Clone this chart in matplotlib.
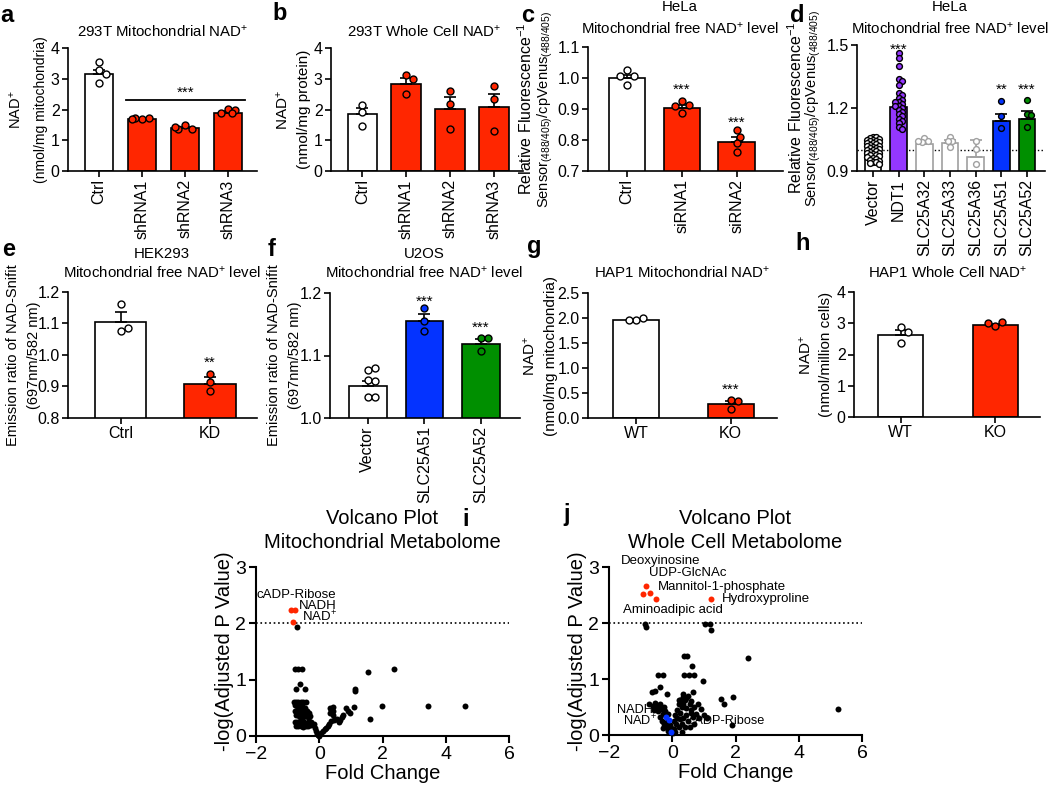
import numpy as np
import matplotlib.pyplot as plt

plt.rcParams['font.family'] = ['Liberation Sans', 'DejaVu Sans']
plt.rcParams['mathtext.fontset'] = 'custom'
plt.rcParams['mathtext.rm'] = 'Liberation Sans'
plt.rcParams['mathtext.it'] = 'Liberation Sans:italic'
plt.rcParams['mathtext.bf'] = 'Liberation Sans:bold'

RED = '#FF2600'
BLUE = '#0433FF'
GREEN = '#008F00'
PURPLE = '#9437FF'
GREY = '#A0A0A0'

# ---- data ----
# a: 293T mitochondrial NAD+
a_labels = ['Ctrl', 'shRNA1', 'shRNA2', 'shRNA3']
a_mean = [3.17, 1.68, 1.41, 1.90]
a_sem = [0.12, 0.01, 0.03, 0.05]
a_pts = [[3.55, 3.28, 3.15, 2.86], [1.70, 1.72, 1.73, 1.70],
         [1.48, 1.37, 1.36, 1.43], [2.02, 2.00, 1.87, 1.89]]

# b: 293T whole cell NAD+
b_labels = ['Ctrl', 'shRNA1', 'shRNA2', 'shRNA3']
b_mean = [1.84, 2.84, 2.03, 2.07]
b_sem = [0.21, 0.19, 0.38, 0.43]
b_pts = [[2.16, 1.92, 1.46], [3.11, 2.98, 2.52],
         [2.61, 2.19, 1.35], [2.75, 2.34, 1.31]]

# c: HeLa, siRNA
c_labels = ['Ctrl', 'siRNA1', 'siRNA2']
c_mean = [1.000, 0.903, 0.795]
c_sem = [0.011, 0.011, 0.016]
c_pts = [[1.025, 1.006, 1.006, 0.977], [0.926, 0.912, 0.909, 0.886],
         [0.832, 0.810, 0.790, 0.762]]

# d: HeLa, overexpression
d_labels = ['Vector', 'NDT1', 'SLC25A32', 'SLC25A33', 'SLC25A36', 'SLC25A51', 'SLC25A52']
d_mean = [0.990, 1.205, 1.030, 1.032, 0.966, 1.138, 1.150]
d_sem = [0.006, 0.020, 0.006, 0.016, 0.080, 0.035, 0.035]
d_pts = [[1.063, 1.060, 1.057, 1.054, 1.049, 1.047, 1.043, 1.041, 1.038, 1.034,
          1.031, 1.029, 1.024, 1.021, 1.018, 1.015, 1.011, 1.008, 1.004, 1.001,
          0.998, 0.995, 0.992, 0.988, 0.985, 0.981, 0.977, 0.974, 0.970, 0.966,
          0.962, 0.958, 0.953, 0.949, 0.945, 0.941, 0.937, 0.933],
         [1.46, 1.44, 1.40, 1.34, 1.33, 1.31, 1.27, 1.26, 1.25, 1.24, 1.23, 1.23,
          1.22, 1.21, 1.21, 1.20, 1.19, 1.18, 1.17, 1.16, 1.15, 1.14, 1.13, 1.11, 1.10],
         [1.056, 1.041, 1.039, 1.042],
         [1.063, 1.044, 1.045, 1.016],
         [1.044, 1.005, 0.935],
         [1.233, 1.160, 1.103],
         [1.238, 1.171, 1.166, 1.111]]

# e: HEK293 NAD-Snifit
e_labels = ['Ctrl', 'KD']
e_mean = [1.105, 0.909]
e_sem = [0.030, 0.020]
e_pts = [[1.163, 1.075, 1.086], [0.941, 0.913, 0.887]]

# f: U2OS NAD-Snifit
f_labels = ['Vector', 'SLC25A51', 'SLC25A52']
f_mean = [1.052, 1.156, 1.119]
f_sem = [0.008, 0.010, 0.008]
f_pts = [[1.077, 1.080, 1.061, 1.059, 1.033, 1.034], [1.176, 1.156, 1.140],
         [1.128, 1.128, 1.107]]

# g: HAP1 mitochondrial NAD+
g_labels = ['WT', 'KO']
g_mean = [1.97, 0.285]
g_sem = [0.015, 0.060]
g_pts = [[1.96, 2.00, 1.97], [0.365, 0.345, 0.18]]

# h: HAP1 whole cell NAD+
h_labels = ['WT', 'KO']
h_mean = [2.62, 2.96]
h_sem = [0.17, 0.03]
h_pts = [[2.88, 2.72, 2.37], [2.92, 3.04, 3.01]]

# i: volcano, mitochondrial metabolome
i_fc = [-0.69, -0.77, -0.66, -0.55, 1.53, 2.37, -0.61, -0.73, -0.45, 1.13, 1.13,
        1.98, 3.43, 4.62, 1.59,
        -0.80, -0.73, -0.66, -0.58, -0.50, -0.42,
        -0.78, -0.70, -0.60, -0.53, -0.45,
        -0.76, -0.68, -0.62, -0.55, -0.48, -0.40, -0.33,
        -0.72, -0.64, -0.56, -0.50, -0.42, -0.35, -0.28,
        -0.78, -0.70, -0.62, -0.55, -0.47, -0.40, -0.32, -0.25, -0.18,
        -0.75, -0.66, -0.58, -0.50, -0.42, -0.34, -0.26, -0.15,
        -0.10, -0.06, -0.03, 0.00, 0.03, 0.07, 0.12, 0.17, 0.22, 0.27,
        0.34, 0.42, 0.38, 0.45, 0.34, 0.42, 0.50, 0.56, 0.46, 0.66, 0.62,
        0.72, 0.76, 0.86, 0.90, 0.98, 1.09, 0.37, 0.30]
i_logp = [1.93, 1.19, 1.19, 1.19, 1.13, 1.19, 0.92, 0.83, 0.83, 0.83, 0.79,
          0.53, 0.53, 0.53, 0.30,
          0.60, 0.60, 0.60, 0.60, 0.60, 0.60,
          0.55, 0.53, 0.52, 0.55, 0.50,
          0.45, 0.47, 0.43, 0.46, 0.42, 0.44, 0.40,
          0.37, 0.35, 0.38, 0.34, 0.36, 0.33, 0.35,
          0.25, 0.24, 0.26, 0.22, 0.25, 0.22, 0.26, 0.24, 0.22,
          0.18, 0.17, 0.18, 0.16, 0.18, 0.17, 0.19, 0.14,
          0.08, 0.04, 0.02, 0.00, 0.03, 0.06, 0.09, 0.12, 0.15, 0.17,
          0.50, 0.52, 0.46, 0.44, 0.40, 0.37, 0.30, 0.31, 0.28, 0.29, 0.25,
          0.34, 0.37, 0.49, 0.45, 0.40, 0.52, 0.27, 0.22]
i_hit_names = ['cADP-Ribose', 'NADH', 'NAD$^{+}$']
i_hit_fc = [-0.88, -0.76, -0.83]
i_hit_logp = [2.23, 2.23, 2.02]

# j: volcano, whole cell metabolome
j_fc = [-0.86, -0.84, 1.03, 1.19, 1.21, 0.38, 0.48, 0.61, 0.37, 0.53, 0.69, 0.98,
        2.38, 5.23, -0.44, -0.30, -0.39, -0.65, -0.55, -0.18, 0.67, 0.35,
        1.53, 1.64, 1.91, 1.88,
        -0.72, -0.62, -0.55, -0.48, -0.40, -0.58, -0.45, -0.35, -0.25, -0.30,
        -0.40, -0.33, -0.25, -0.30, -0.20, -0.15, -0.12, -0.22, -0.08, -0.05, -0.17,
        0.02, 0.05, 0.10, 0.12, 0.15, 0.20, 0.25, 0.30, 0.35, 0.40, 0.45, 0.50,
        0.55, 0.60, 0.35, 0.30, 0.45, 0.50, 0.20, 0.25, 0.35, 0.60, 0.70, 0.80,
        0.90, 1.00, 0.65, 0.75, 0.40, 0.55, 0.30, 0.15, 0.25, 0.10, 0.20, 0.85,
        1.10, 0.70, 0.05, 0.45, 0.58]
j_logp = [1.99, 1.92, 1.99, 1.99, 1.88, 1.41, 1.41, 1.24, 1.07, 1.07, 1.07, 0.97,
          1.38, 0.46, 1.07, 1.07, 0.86, 0.76, 0.79, 0.74, 0.76, 0.74,
          0.65, 0.55, 0.67, 0.18,
          0.55, 0.52, 0.58, 0.50, 0.55, 0.45, 0.42, 0.47, 0.50, 0.38,
          0.33, 0.25, 0.20, 0.13, 0.15, 0.08, 0.38, 0.42, 0.18, 0.12, 0.24,
          0.03, 0.10, 0.05, 0.20, 0.30, 0.15, 0.40, 0.50, 0.56, 0.62, 0.66, 0.70,
          0.55, 0.45, 0.30, 0.20, 0.35, 0.25, 0.55, 0.63, 0.68, 0.60, 0.50, 0.55,
          0.46, 0.35, 0.32, 0.38, 0.15, 0.15, 0.06, 0.45, 0.28, 0.36, 0.62, 0.30,
          0.30, 0.20, 0.25, 0.48, 0.40]
j_hit_fc = [-0.83, -0.91, -0.70, -0.51, 1.22]
j_hit_logp = [2.66, 2.52, 2.54, 2.43, 2.43]
j_hit_names = ['Deoxyinosine', 'UDP-GlcNAc', 'Mannitol-1-phosphate',
               'Hydroxyproline', 'Aminoadipic acid']
j_nad_names = ['NADH', 'NAD$^{+}$', 'cADP-Ribose']
j_nad_fc = [-0.20, -0.09, -0.04]
j_nad_logp = [0.32, 0.27, 0.06]

W, H = 1050, 791
fig = plt.figure(figsize=(W / 100, H / 100), dpi=100)


def add_ax(l, r, t, b):
    return fig.add_axes([l / W, 1 - b / H, (r - l) / W, (b - t) / H])


def style(ax, size=11.5, lw=1.2):
    for s in ('top', 'right'):
        ax.spines[s].set_visible(False)
    for s in ('left', 'bottom'):
        ax.spines[s].set_linewidth(lw)
    ax.tick_params(direction='out', length=4, width=lw, labelsize=size, pad=2)


def swarm(ax, xc, vals, diam, half_w):
    # simple beeswarm in pixel space, using the axes' own transform
    tr = ax.transData
    sx = tr.transform((1, 0))[0] - tr.transform((0, 0))[0]
    placed = []
    xs = []
    step = diam * 0.5
    nmax = int(half_w * sx / step)
    cands = [0.0]
    for k in range(1, nmax + 1):
        cands += [k * step, -k * step]
    for v in vals:
        y = tr.transform((0, v))[1]
        best = None
        best_score = -1
        for off in cands:
            d = min([np.hypot(off - px, y - py) for px, py in placed] + [1e9])
            if d >= diam:
                best = off
                break
            if d > best_score:
                best_score = d
                best = off
        placed.append((best, y))
        xs.append(xc + best / sx)
    return xs


def bar_panel(ax, labels, means, sems, pts, fills, edges, ylim, yticks,
              xlim, width, ms, diam, rot=90, yfmt='{:g}'):
    x = np.arange(len(labels))
    ax.set_xlim(*xlim)
    ax.set_ylim(*ylim)
    ax.bar(x, means, width, color=fills, edgecolor=edges, linewidth=1.2, zorder=2)
    for xi, m, s, e in zip(x, means, sems, edges):
        ax.errorbar(xi, m, yerr=[[0], [s]], color=e, capsize=4, capthick=1.2,
                    elinewidth=1.2, zorder=3)
    for xi, p, f, e in zip(x, pts, fills, edges):
        dd = diam if len(p) < 10 else diam * 0.8
        px = swarm(ax, xi, p, dd, width * 0.42)
        ax.plot(px, p, 'o', ms=ms, mfc=f, mec=e, mew=1.0, zorder=4, clip_on=False)
    ax.set_xticks(x)
    ax.set_xticklabels(labels, rotation=rot)
    ax.set_yticks(yticks)
    ax.set_yticklabels([yfmt.format(t) for t in yticks])
    style(ax)


def ylab(ax, lines):
    # lines: list of (text, right-edge offset px from the y axis, size)
    w = ax.get_position().width * W
    for txt, off, sz in lines:
        ax.text(-off / w, 0.5, txt, transform=ax.transAxes, rotation=90,
                rotation_mode='anchor', ha='center', va='bottom', fontsize=sz)


def letter(x, y, s):
    fig.text(x / W, 1 - y / H, s, fontsize=17, fontweight='bold', ha='left', va='center')


def title(x, y, s, size=10.8):
    fig.text(x / W, 1 - y / H, s, fontsize=size, ha='center', va='center')


def stars(ax, x, y, s, size=11):
    ax.text(x, y, s, ha='center', va='center', fontsize=size, zorder=5)


# ---- a ----
ax = add_ax(68, 257, 48, 171)
bar_panel(ax, a_labels, a_mean, a_sem, a_pts, ['white', RED, RED, RED],
          ['k'] * 4, (0, 4), [0, 1, 2, 3, 4], (-0.72, 3.67), 0.66, 5, 7)
ax.plot([0.62, 3.38], [2.30, 2.30], color='k', lw=1.3)
stars(ax, 2.0, 2.55, '***')
ylab(ax, [('NAD$^{+}$', 44, 10.5), ('(nmol/mg mitochondria)', 20, 10)])
title(163, 32, '293T Mitochondrial NAD$^{+}$')
letter(0, 15, 'a')

# ---- b ----
ax = add_ax(331, 523, 48, 171)
bar_panel(ax, b_labels, b_mean, b_sem, b_pts, ['white', RED, RED, RED],
          ['k'] * 4, (0, 4), [0, 1, 2, 3, 4], (-0.72, 3.67), 0.68, 5, 7)
ylab(ax, [('NAD$^{+}$', 40, 11), ('(nmol/mg protein)', 20, 11)])
title(424, 32, '293T Whole Cell NAD$^{+}$')
letter(272, 13, 'b')

# ---- c ----
ax = add_ax(588, 783, 47, 171)
bar_panel(ax, c_labels, c_mean, c_sem, c_pts, ['white', RED, RED],
          ['k'] * 3, (0.7, 1.1), [0.7, 0.8, 0.9, 1.0, 1.1], (-0.71, 2.84), 0.67, 5, 7,
          yfmt='{:.1f}')
stars(ax, 1, 0.962, '***')
stars(ax, 2, 0.857, '***')
ylab(ax, [('Relative Fluorescence$^{-1}$', 53, 11.5),
          ('Sensor$_{(488/405)}$/cpVenus$_{(488/405)}$', 33, 10.5)])
title(680, 7, 'HeLa')
title(680, 29, 'Mitochondrial free NAD$^{+}$ level')
letter(521, 15, 'c')

# ---- d ----
ax = add_ax(857, 1045, 45, 171)
ax.axhline(1.0, ls=':', color='k', lw=1.0, zorder=1)
bar_panel(ax, d_labels, d_mean, d_sem, d_pts,
          ['white', PURPLE, 'white', 'white', 'white', BLUE, GREEN],
          ['k', 'k', GREY, GREY, GREY, 'k', 'k'],
          (0.9, 1.5), [0.9, 1.2, 1.5], (-0.62, 6.7), 0.65, 4.2, 4.0, yfmt='{:.1f}')
stars(ax, 1, 1.478, '***')
stars(ax, 5, 1.285, '**')
stars(ax, 6, 1.285, '***')
ylab(ax, [('Relative Fluorescence$^{-1}$', 52, 11.5),
          ('Sensor$_{(488/405)}$/cpVenus$_{(488/405)}$', 34, 10.5)])
title(950, 7, 'HeLa')
title(950, 29, 'Mitochondrial free NAD$^{+}$ level')
letter(790, 15, 'd')

# ---- e ----
ax = add_ax(68, 257, 292, 418)
bar_panel(ax, e_labels, e_mean, e_sem, e_pts, ['white', RED], ['k', 'k'],
          (0.8, 1.2), [0.8, 0.9, 1.0, 1.1, 1.2], (-0.59, 1.53), 0.58, 5, 7, rot=0,
          yfmt='{:.1f}')
stars(ax, 1, 0.975, '**')
ylab(ax, [('Emission ratio of NAD-Snifit', 48, 10.5), ('(697nm/582 nm)', 27, 10.5)])
title(162, 254, 'HEK293')
title(162, 273, 'Mitochondrial free NAD$^{+}$ level')
letter(2, 249, 'e')

# ---- f ----
ax = add_ax(330, 520, 293, 418)
bar_panel(ax, f_labels, f_mean, f_sem, f_pts, ['white', BLUE, GREEN], ['k'] * 3,
          (1.0, 1.2), [1.0, 1.1, 1.2], (-0.67, 2.69), 0.66, 5, 7, yfmt='{:.1f}')
stars(ax, 1, 1.186, '***')
stars(ax, 2, 1.144, '***')
ylab(ax, [('Emission ratio of NAD-Snifit', 49, 10.5), ('(697nm/582 nm)', 28, 10.5)])
title(424, 254, 'U2OS')
title(424, 273, 'Mitochondrial free NAD$^{+}$ level')
letter(268, 249, 'f')

# ---- g ----
ax = add_ax(588, 777, 293, 418)
bar_panel(ax, g_labels, g_mean, g_sem, g_pts, ['white', RED], ['k', 'k'],
          (0, 2.5), [0, 0.5, 1.0, 1.5, 2.0, 2.5], (-0.51, 1.49), 0.49, 5, 7, rot=0,
          yfmt='{:.1f}')
stars(ax, 1, 0.57, '***')
ylab(ax, [('NAD$^{+}$', 50, 11), ('(nmol/mg mitochondria)', 30, 11)])
title(682, 273, 'HAP1 Mitochondrial NAD$^{+}$')
letter(527, 247, 'g')

# ---- h ----
ax = add_ax(854, 1040, 292, 417)
bar_panel(ax, h_labels, h_mean, h_sem, h_pts, ['white', RED], ['k', 'k'],
          (0, 4), [0, 1, 2, 3, 4], (-0.49, 1.47), 0.48, 5, 7, rot=0)
ylab(ax, [('NAD$^{+}$', 40, 11), ('(nmol/million cells)', 21, 11)])
title(948, 273, 'HAP1 Whole Cell NAD$^{+}$')
letter(795, 243, 'h')


# ---- volcano plots ----
def volcano(ax):
    ax.set_xlim(-2, 6)
    ax.set_ylim(0, 3)
    ax.axhline(2, ls=':', color='k', lw=1.2, zorder=1)
    ax.set_xticks([-2, 0, 2, 4, 6])
    ax.set_yticks([0, 1, 2, 3])
    style(ax, size=14, lw=1.5)
    ax.tick_params(length=5)
    ax.set_xlabel('Fold Change', fontsize=14.5, labelpad=1)
    w = ax.get_position().width * W
    ax.text(-22 / w, 0.5, '-log(Adjusted P Value)', transform=ax.transAxes,
            rotation=90, rotation_mode='anchor', ha='center', va='bottom', fontsize=14.5)


ax = add_ax(256, 509, 567, 736)
volcano(ax)
ax.plot(i_fc, i_logp, 'o', ms=4.3, color='k', mew=0, clip_on=False, zorder=3)
ax.plot(i_hit_fc, i_hit_logp, 'o', ms=4.3, color=RED, mew=0, zorder=4)
ax.text(-1.97, 2.50, i_hit_names[0], fontsize=9.5, ha='left', va='center')
ax.text(-0.63, 2.30, i_hit_names[1], fontsize=9.5, ha='left', va='center')
ax.text(-0.55, 2.12, i_hit_names[2], fontsize=9.5, ha='left', va='center')
title(382, 518, 'Volcano Plot', 14.5)
title(382, 542, 'Mitochondrial Metabolome', 14.5)
letter(462, 520, 'i')

ax = add_ax(609, 862, 567, 735)
volcano(ax)
ax.plot(j_fc, j_logp, 'o', ms=4.3, color='k', mew=0, clip_on=False, zorder=3)
ax.plot(j_hit_fc, j_hit_logp, 'o', ms=4.3, color=RED, mew=0, zorder=4)
ax.plot(j_nad_fc, j_nad_logp, 'o', ms=4.3, color=BLUE, mew=0, zorder=4)
for name, x, y in zip(j_hit_names, [-1.63, -0.72, -0.45, 1.56, -1.55],
                      [3.11, 2.90, 2.64, 2.43, 2.23]):
    ax.text(x, y, name, fontsize=9.5, ha='left', va='center')
ax.text(-0.62, 0.44, j_nad_names[0], fontsize=9.2, ha='right', va='center')
ax.text(-0.50, 0.25, j_nad_names[1], fontsize=9.2, ha='right', va='center')
ax.text(0.52, 0.25, j_nad_names[2], fontsize=9.2, ha='left', va='center')
title(735, 518, 'Volcano Plot', 14.5)
title(735, 542, 'Whole Cell Metabolome', 14.5)
letter(563, 514, 'j')

fig.savefig('out.png', dpi=100)
